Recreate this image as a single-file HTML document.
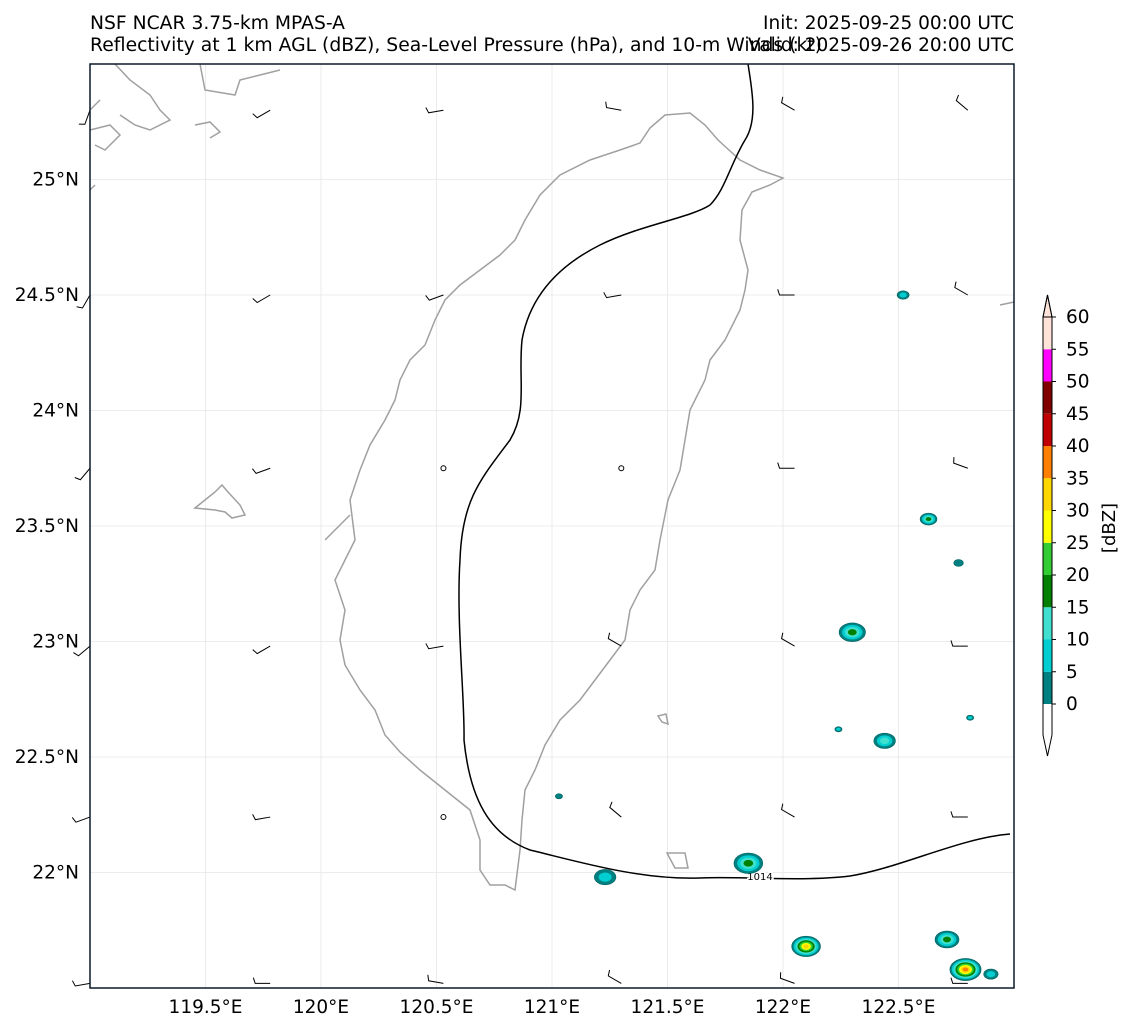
<!DOCTYPE html>
<html><head><meta charset="utf-8"><style>
body{margin:0;background:#fff;font-family:"DejaVu Sans",sans-serif}
svg text{font-family:"DejaVu Sans",sans-serif;fill:#000}
</style></head><body>
<svg id="chart" width="1133" height="1032" xmlns="http://www.w3.org/2000/svg">
<text x="90" y="29" font-size="18.5" textLength="255" lengthAdjust="spacingAndGlyphs">NSF NCAR 3.75-km MPAS-A</text>
<text x="90" y="51" font-size="18.5" textLength="732" lengthAdjust="spacingAndGlyphs">Reflectivity at 1 km AGL (dBZ), Sea-Level Pressure (hPa), and 10-m Winds (kt)</text>
<text x="1014" y="29" font-size="18.5" text-anchor="end">Init: 2025-09-25 00:00 UTC</text>
<text x="1014" y="51" font-size="18.5" text-anchor="end">Valid: 2025-09-26 20:00 UTC</text>
<g id="grid"></g>
<g id="land" fill="none" stroke="#a0a0a0" stroke-width="1.5">
<path d="M650,128 L665,115 690,113 705,125 718,140 740,160 760,170 783,178 770,185 752,192 742,210 740,240 748,270 745,290 740,310 725,340 710,360 705,380 690,410 685,440 680,470 668,500 660,540 655,570 640,590 630,610 625,640 610,660 595,680 580,700 560,720 545,745 535,770 525,790 522,820 520,850 515,890 505,885 490,885 480,870 480,840 470,810 445,790 420,770 400,752 385,735 375,710 360,690 345,665 340,640 345,610 335,580 345,560 355,540 350,500 360,470 370,445 385,420 395,400 400,380 410,360 425,345 435,320 445,300 460,285 480,270 500,255 515,240 525,220 540,195 560,175 590,160 620,150 640,143 Z"/>
<path d="M195,508 L205,500 215,492 222,485 228,492 240,505 245,515 232,518 225,512 215,510 Z"/>
<path d="M658,716 L666,714 668,724 662,722 Z"/>
<path d="M667,853 L685,853 688,868 675,868 Z"/>
<path d="M90,110 L100,100 M90,130 L110,125 120,135 105,150 95,145 M115,64 L130,80 150,95 160,110 170,120 150,130 135,125 120,115 M200,64 L205,90 235,95 240,80 260,75 280,70 M195,125 L210,122 220,132 210,138 M325,540 L340,525 350,515 M1000,305 L1014,302 M90,190 L95,185"/>
</g>
<path fill="none" stroke="#000" stroke-width="1.5" d="M748,64 C752,90 758,120 745,140 C730,165 725,190 710,205 C690,218 640,225 600,245 C560,265 530,295 522,340 C518,380 528,410 510,440 C480,480 462,500 460,560 C456,620 465,700 464,740 C470,800 490,835 530,850 C580,862 640,880 700,878 C740,876 800,882 850,876 C900,868 960,838 1010,834"/>
<text x="760" y="880" font-size="10" text-anchor="middle" style="paint-order:stroke" stroke="#fff" stroke-width="3">1014</text>
<g id="cells"></g>
<g id="barbs" stroke="#000" stroke-width="1" fill="none"></g>
<rect x="90" y="64" width="924" height="924" fill="none" stroke="#0b1a2a" stroke-width="1.5"/>
<g id="axes"></g>
<g id="cbar"></g>
<text font-size="18" transform="translate(1115,528) rotate(-90)" text-anchor="middle">[dBZ]</text>
</svg>
<script>
const lonTicks=[119.5,120,120.5,121,121.5,122,122.5];
const latTicks=[25,24.5,24,23.5,23,22.5,22];
const levels=[0,5,10,15,20,25,30,35,40,45,50,55,60];
const levelColors=["#008080","#00ced1","#40e0d0","#008000","#32cd32","#ffff00","#ffd700","#ff7f00","#c00000","#800000","#ff00ff","#ffe2d8"];
const cellLon=[122.52,122.63,122.30,122.44,122.76,122.81,122.24,121.85,121.23,122.10,122.71,122.79,122.90,121.03];
const cellLat=[24.50,23.53,23.04,22.57,23.34,22.67,22.62,22.04,21.98,21.68,21.71,21.58,21.56,22.33];
const cellPeak=[8,18,18,10,4,6,6,18,8,32,18,38,6,4];
const cellSize=[5,7,11,9,4,3,3,12,9,12,10,13,6,3];
const barbLon=[119.0,119.78,120.53,121.3,122.05,122.8];
const barbLat=[25.3,24.5,23.75,22.98,22.24,21.52];
const barbDir=[[200,240,260,280,300,310],[210,240,250,260,270,300],[220,250,0,0,270,290],[230,240,260,300,300,270],[250,260,0,310,300,270],[260,270,280,300,290,270]];
const NS="http://www.w3.org/2000/svg";
const X=lon=>90+(lon-119)*231;
const Y=lat=>64+(25.5-lat)*231;
const CY=v=>704-v*(387/60);
const FS=18.5;
function mk(t,a,p){const e=document.createElementNS(NS,t);for(const k in a)e.setAttribute(k,a[k]);p.appendChild(e);return e;}
const grid=document.getElementById('grid'),axes=document.getElementById('axes');
lonTicks.forEach(l=>{
 const g=mk('line',{x1:X(l),x2:X(l),y1:64,y2:988,stroke:'#e6e6e6','stroke-width':0.8},grid);
 
 
 const t=mk('text',{x:X(l),y:1013,'font-size':FS,'text-anchor':'middle'},axes);t.textContent=l+'°E';
 
 
});
latTicks.forEach(l=>{
 const g=mk('line',{x1:90,x2:1014,y1:Y(l),y2:Y(l),stroke:'#e6e6e6','stroke-width':0.8},grid);
 
 
 const t=mk('text',{x:79,y:Y(l)+6,'font-size':FS,'text-anchor':'end'},axes);t.textContent=l+'°N';
 
 
});
const cells=document.getElementById('cells');
cellLon.forEach((lo,i)=>{
 const n=Math.floor(cellPeak[i]/5)+1;
 for(let k=0;k<n;k++){
  const r=cellSize[i]*(1-k/(n+0.5));
  const e=mk('ellipse',{cx:X(lo),cy:Y(cellLat[i]),rx:r*1.2,ry:r*0.85,fill:levelColors[k],stroke:k==0?'#006060':'none','stroke-width':0.6},cells);
  
  
 }
});
const barbs=document.getElementById('barbs');
barbLat.forEach((la,j)=>barbLon.forEach((lo,i)=>{
 const d=barbDir[j][i],x=X(lo),y=Y(la);
 if(d===0){const c=mk('circle',{cx:x,cy:y,r:2.5},barbs);return;}
 const a=d*Math.PI/180,L=15;
 const x2=x+L*Math.sin(a),y2=y-L*Math.cos(a);
 const fx=x2+6*Math.sin(a+Math.PI/2.5),fy=y2-6*Math.cos(a+Math.PI/2.5);
 const p=mk('path',{d:`M${x},${y} L${x2},${y2} L${fx},${fy}`},barbs);
 
 
}));
const cb=document.getElementById('cbar');
levelColors.forEach((c,i)=>{
 const r=mk('rect',{x:1043,y:CY(levels[i+1]),width:9,height:CY(levels[i])-CY(levels[i+1]),fill:c},cb);
 
 
});
const tri1=mk('path',{d:`M1043,${CY(60)} L1047.5,295 L1052,${CY(60)} Z`,fill:'#ffe2d8',stroke:'#000','stroke-width':1},cb);


const tri2=mk('path',{d:`M1043,${CY(0)} L1043,735 L1047.5,756 L1052,735 L1052,${CY(0)}`,fill:'#fff',stroke:'#000','stroke-width':1},cb);


const fr=mk('path',{d:`M1043,${CY(0)} L1043,${CY(60)} L1047.5,295 L1052,${CY(60)} L1052,${CY(0)}`,fill:'none',stroke:'#000','stroke-width':1},cb);


levels.forEach(v=>{
 mk('line',{x1:1052,x2:1056,y1:CY(v),y2:CY(v),stroke:'#000'},cb);
 const t=mk('text',{x:1066,y:CY(v)+6,'font-size':FS},cb);t.textContent=v;
 
 
});
</script>
</body></html>
